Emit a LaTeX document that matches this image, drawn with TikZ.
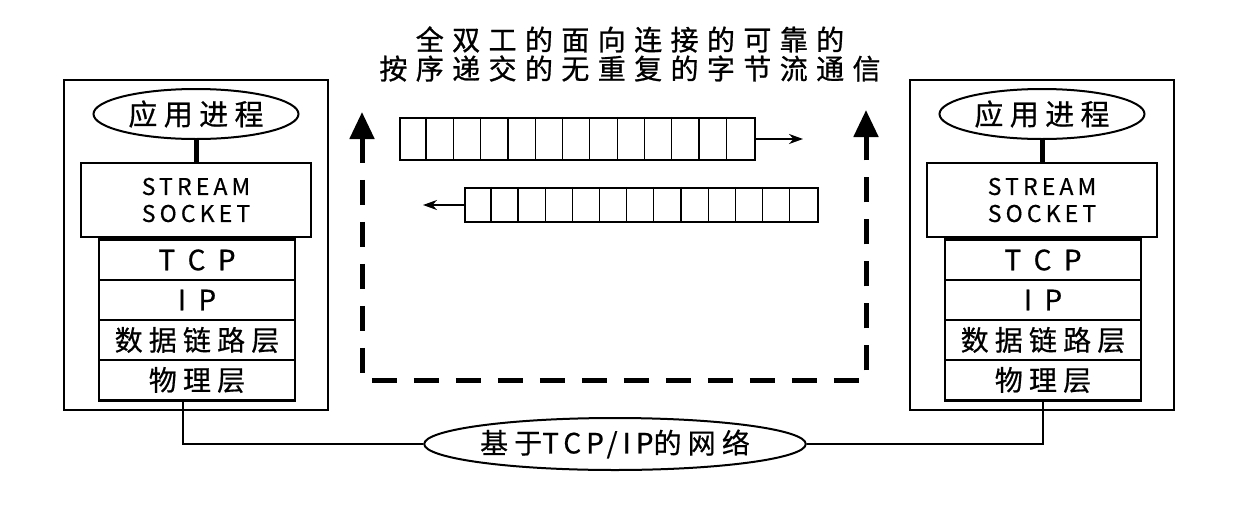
\documentclass[tikz,border=0pt]{standalone}
\usepackage{fontspec}
\newfontfamily\cjk[FakeBold=0.6]{Noto Sans CJK SC}
\newfontfamily\cjkwide[LetterSpace=22,FakeBold=0.6]{Noto Sans CJK SC}
\newfontfamily\titlefont[LetterSpace=30,FakeBold=0.9]{Noto Sans CJK SC}
\newfontfamily\latwide[LetterSpace=18,FakeBold=0.6]{Noto Sans CJK SC}
\usetikzlibrary{arrows.meta, shapes.geometric, positioning, calc}
\tikzset{>=Stealth}

\begin{document}
\begin{tikzpicture}[x=1pt,y=-1pt,
  host/.style={draw, line width=2pt, minimum width=264pt, minimum height=330pt},
  proc/.style={ellipse, draw, line width=2pt, minimum width=205pt, minimum height=50pt,
               inner sep=0pt, font=\cjkwide\fontsize{29}{29}\selectfont},
  sockbox/.style={draw, line width=2.2pt, minimum width=230pt, minimum height=74pt,
                  inner sep=0pt, align=center, font=\latwide\fontsize{23}{27}\selectfont},
  layer/.style={draw, line width=1.2pt, minimum width=195pt, minimum height=40pt,
                inner sep=0pt, font=\cjkwide\fontsize{28}{28}\selectfont},
  buf/.style={draw, line width=2.5pt, inner sep=0pt},
  wire/.style={line width=2pt},
  flow/.style={line width=5pt, dash pattern=on 25pt off 17pt,
               {Triangle[width=24pt,length=27pt]}-{Triangle[width=24pt,length=27pt]}}]

\useasboundingbox (0,0) rectangle (1254,512);

% title
\node[font=\titlefont\fontsize{28}{29}\selectfont, align=center] (title) at (630,54)
  {全双工的面向连接的可靠的\\按序递交的无重复的字节流通信};

% the two hosts
\foreach \s/\x in {l/196, r/1042} {
  \node[host] (\s host) at (\x,245) {};
  \node[proc] (\s app) at (\x,114) {应用进程};
  \node[sockbox] (\s sock) at (\x,200) {STREAM\\SOCKET};
  \node[layer] (\s tcp) at (\x+1,260) {T C P};
  \node[layer] (\s ip) at (\x+1,300) {I P};
  \node[layer] (\s link) at (\x+1,340) {数据链路层};
  \node[layer] (\s phy) at (\x+1,380) {物理层};
  \draw[line width=2.5pt] (\s tcp.north west) rectangle (\s phy.south east);
  \draw[line width=5pt] (\s app.south) -- (\s sock.north);
}

% network
\node[ellipse, draw, line width=2pt, minimum width=365pt, minimum height=52pt, inner sep=0pt,
      font=\cjkwide\fontsize{28}{28}\selectfont] (net) at (615,444)
  {基于{\latwide TCP/IP}的网络};
\draw[wire] ([xshift=-14pt]lphy.south) |- (net);
\draw[wire] (rphy.south) |- (net);

% byte stream buffers
\node[buf, minimum width=355pt, minimum height=42pt] (tbuf) at (577.5,139) {};
\node[buf, minimum width=353pt, minimum height=34pt] (bbuf) at (641.5,205) {};
\foreach \i in {1,...,12} {
  \draw[line width=1.2pt] ([xshift=\i*27.3pt]tbuf.north west) -- ([xshift=\i*27.3pt]tbuf.south west);
  \draw[line width=1.2pt] ([xshift=\i*27.15pt]bbuf.north west) -- ([xshift=\i*27.15pt]bbuf.south west);
}
\coordinate (tout) at (803,139);
\coordinate (bout) at (423,205);
\draw[wire, -{Stealth[length=14pt,width=10pt]}] (tbuf) -- (tout);
\draw[wire, -{Stealth[length=14pt,width=10pt]}] (bbuf) -- (bout);

% connection
\coordinate (ltip) at (362,112);
\coordinate (lcorner) at (362,380);
\coordinate (rcorner) at (866,380);
\coordinate (rtip) at (866,110);
\draw[flow] (ltip) -- (lcorner) -- (rcorner) -- (rtip);

\end{tikzpicture}
\end{document}
